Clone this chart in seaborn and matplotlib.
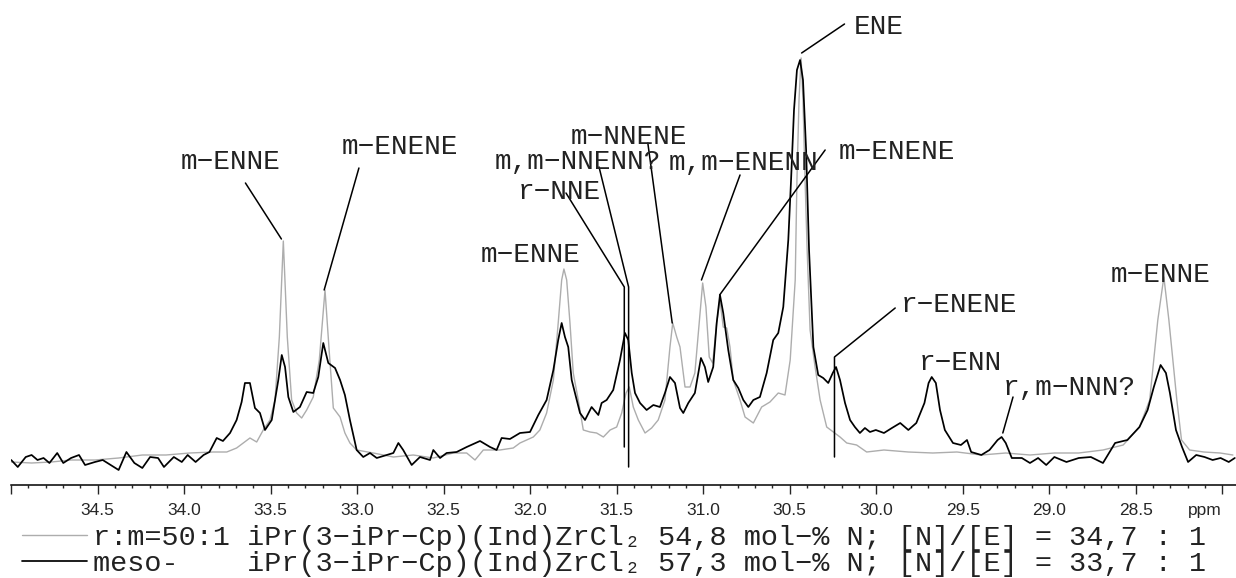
import numpy as np
import pandas as pd
import matplotlib
matplotlib.use("Agg")
import matplotlib.pyplot as plt
import seaborn as sns
from matplotlib.ticker import MultipleLocator

sns.set_style("white")
plt.rcParams["font.family"] = ["Liberation Mono", "DejaVu Sans Mono"]

# ------------------------------------------------------------
# 13C NMR traces (ppm, intensity in a.u.)
# ------------------------------------------------------------
ppm_meso = [35.00, 34.962, 34.916, 34.882, 34.848, 34.813, 34.779, 34.734, 34.699, 34.654,
            34.608, 34.573, 34.516, 34.471, 34.425, 34.379, 34.334, 34.288, 34.242, 34.197,
            34.151, 34.117, 34.060, 34.014, 33.980, 33.934, 33.888, 33.854, 33.812, 33.776,
            33.735, 33.697, 33.668, 33.649, 33.620, 33.591, 33.562, 33.533, 33.494, 33.456,
            33.436, 33.417, 33.398, 33.369, 33.331, 33.292, 33.254, 33.225, 33.196, 33.167,
            33.128, 33.099, 33.071, 33.042, 33.003, 32.965, 32.926, 32.887, 32.829, 32.791,
            32.762, 32.734, 32.685, 32.637, 32.579, 32.560, 32.521, 32.483, 32.425, 32.367,
            32.290, 32.232, 32.194, 32.165, 32.117, 32.059, 32.001, 31.953, 31.905, 31.866,
            31.838, 31.818, 31.799, 31.780, 31.760, 31.741, 31.712, 31.683, 31.645, 31.606,
            31.587, 31.558, 31.520, 31.481, 31.452, 31.433, 31.413, 31.394, 31.365, 31.327,
            31.288, 31.250, 31.221, 31.192, 31.163, 31.134, 31.115, 31.086, 31.048, 31.013,
            30.990, 30.971, 30.942, 30.922, 30.903, 30.884, 30.855, 30.826, 30.797, 30.768,
            30.739, 30.710, 30.672, 30.633, 30.595, 30.566, 30.537, 30.508, 30.492, 30.475,
            30.458, 30.440, 30.423, 30.405, 30.388, 30.363, 30.335, 30.306, 30.277, 30.251,
            30.232, 30.209, 30.180, 30.151, 30.123, 30.094, 30.065, 30.036, 30.002, 29.955,
            29.909, 29.861, 29.814, 29.768, 29.721, 29.697, 29.679, 29.655, 29.631, 29.603,
            29.556, 29.510, 29.475, 29.451, 29.392, 29.345, 29.298, 29.275, 29.251, 29.216,
            29.158, 29.111, 29.064, 29.017, 28.970, 28.900, 28.829, 28.759, 28.689, 28.619,
            28.548, 28.478, 28.431, 28.395, 28.356, 28.325, 28.302, 28.267, 28.232, 28.197,
            28.150, 28.102, 28.055, 28.009, 27.962, 27.927]
int_meso = [10, 3, 13, 15, 10, 12, 7, 17, 7, 12,
            15, 5, 8, 10, 5, 0, 18, 7, 2, 13,
            12, 3, 13, 8, 15, 8, 15, 18, 32, 29,
            37, 50, 68, 87, 87, 62, 57, 40, 50, 90,
            115, 103, 73, 58, 63, 78, 77, 93, 127, 107,
            102, 90, 75, 50, 20, 13, 17, 12, 15, 17,
            27, 20, 5, 13, 10, 20, 12, 17, 18, 23,
            29, 23, 20, 32, 31, 37, 38, 55, 70, 100,
            130, 147, 133, 123, 90, 77, 57, 50, 63, 55,
            67, 70, 80, 110, 137, 130, 97, 77, 67, 60,
            65, 63, 77, 93, 87, 62, 57, 67, 77, 112,
            103, 88, 103, 147, 175, 157, 120, 90, 82, 70,
            63, 70, 73, 97, 130, 137, 163, 230, 290, 360,
            400, 410, 390, 320, 220, 123, 95, 92, 87, 97,
            103, 90, 67, 50, 43, 37, 42, 38, 40, 37,
            42, 47, 40, 47, 67, 87, 93, 87, 60, 40,
            27, 25, 30, 18, 15, 20, 30, 33, 27, 12,
            12, 7, 12, 5, 13, 8, 12, 13, 7, 27,
            30, 43, 60, 83, 105, 97, 77, 40, 23, 8,
            15, 13, 10, 12, 8, 12]

ppm_rm = [35.00, 34.882, 34.768, 34.654, 34.516, 34.379, 34.242, 34.105, 33.968, 33.832,
          33.754, 33.697, 33.620, 33.581, 33.543, 33.504, 33.475, 33.450, 33.427, 33.404,
          33.379, 33.350, 33.321, 33.292, 33.254, 33.219, 33.186, 33.161, 33.138, 33.099,
          33.071, 33.042, 33.003, 32.907, 32.791, 32.676, 32.560, 32.444, 32.367, 32.319,
          32.271, 32.175, 32.098, 32.059, 31.982, 31.944, 31.905, 31.866, 31.838, 31.818,
          31.805, 31.789, 31.770, 31.751, 31.722, 31.693, 31.654, 31.616, 31.577, 31.538,
          31.500, 31.471, 31.446, 31.427, 31.404, 31.375, 31.336, 31.298, 31.260, 31.221,
          31.192, 31.176, 31.153, 31.134, 31.105, 31.076, 31.048, 31.023, 31.003, 30.984,
          30.965, 30.945, 30.922, 30.903, 30.884, 30.864, 30.845, 30.826, 30.787, 30.758,
          30.710, 30.662, 30.614, 30.566, 30.527, 30.497, 30.468, 30.458, 30.446, 30.434,
          30.423, 30.411, 30.399, 30.382, 30.353, 30.324, 30.286, 30.248, 30.209, 30.170,
          30.113, 30.055, 29.955, 29.814, 29.673, 29.533, 29.392, 29.251, 29.111, 28.970,
          28.829, 28.689, 28.572, 28.478, 28.419, 28.372, 28.337, 28.308, 28.262, 28.235,
          28.188, 28.106, 28.012, 27.938]
int_rm = [8, 7, 8, 10, 10, 12, 15, 15, 17, 18,
          18, 22, 32, 28, 40, 50, 70, 133, 229, 133,
          70, 57, 52, 60, 73, 110, 180, 117, 62, 53,
          37, 27, 20, 17, 13, 15, 12, 17, 17, 10,
          20, 20, 22, 27, 33, 40, 57, 90, 147, 190,
          201, 190, 147, 97, 70, 40, 38, 37, 33, 40,
          43, 57, 77, 83, 63, 50, 37, 42, 50, 70,
          123, 147, 133, 123, 83, 83, 97, 147, 187, 163,
          113, 107, 147, 170, 143, 142, 123, 90, 70, 53,
          47, 63, 68, 77, 75, 110, 190, 290, 370, 412,
          370, 290, 220, 140, 103, 70, 43, 38, 33, 27,
          25, 18, 20, 18, 17, 18, 15, 17, 15, 17,
          17, 20, 25, 43, 70, 150, 193, 150, 70, 30,
          20, 18, 17, 15]

# peak assignments
label_text = ["m−ENNE", "m−ENENE", "m−ENNE", "r−NNE", "m,m−NNENN?", "m−NNENE",
              "m,m−ENENN", "m−ENENE", "ENE", "r−ENENE", "r−ENN", "r,m−NNN?", "m−ENNE"]
label_ppm = [33.734, 32.751, 31.995, 31.833, 31.727, 31.432,
             30.765, 29.880, 29.984, 29.521, 29.516, 28.882, 28.354]
label_int = [308, 323, 215, 278, 308, 333, 307, 318, 443, 165, 107, 82, 195]

# leader lines from label to peak
leader_ppm = [[33.646, 33.438], [32.990, 33.191], [31.793, 31.456, 31.456],
              [31.602, 31.431, 31.431], [31.320, 31.179], [30.787, 31.010],
              [30.295, 30.905], [30.183, 30.431], [29.890, 30.241, 30.241],
              [29.209, 29.268]]
leader_int = [[287, 231], [302, 180], [277, 183, 23],
              [303, 183, 3], [327, 147], [295, 190],
              [320, 175], [446, 417], [162, 113, 13],
              [73, 37]]

tick_ppm = [35.0, 34.5, 34.0, 33.5, 33.0, 32.5, 32.0, 31.5, 31.0, 30.5, 30.0, 29.5, 29.0, 28.5, 28.0]
tick_labels = ["", "34.5", "34.0", "33.5", "33.0", "32.5", "32.0", "31.5", "31.0",
               "30.5", "30.0", "29.5", "29.0", "28.5", "ppm"]

legend_labels = ["r:m=50:1 iPr(3−iPr−Cp)(Ind)ZrCl₂ 54,8 mol−% N; [N]/[E] = 34,7 : 1",
                 "meso-    iPr(3−iPr−Cp)(Ind)ZrCl₂ 57,3 mol−% N; [N]/[E] = 33,7 : 1"]

df = pd.concat([
    pd.DataFrame({"ppm": ppm_rm, "intensity": int_rm, "sample": "rm"}),
    pd.DataFrame({"ppm": ppm_meso, "intensity": int_meso, "sample": "meso"}),
])

# ------------------------------------------------------------
# Plot
# ------------------------------------------------------------
fig = plt.figure(figsize=(12.36, 5.78), dpi=100)
ax = fig.add_axes([11.2 / 1236, 93 / 578, 1 - 11.2 / 1236, 485 / 578])

sns.lineplot(data=df, x="ppm", y="intensity", hue="sample", hue_order=["rm", "meso"],
             palette={"rm": "#adadad", "meso": "black"}, estimator=None, sort=False,
             legend=False, ax=ax)
lines = ax.get_lines()
lines[0].set_linewidth(1.0)
lines[1].set_linewidth(1.25)

for xs, ys in zip(leader_ppm, leader_int):
    ax.plot(xs, ys, color="black", lw=1.1)

for t, x, y in zip(label_text, label_ppm, label_int):
    ax.text(x, y, t, ha="center", va="center", fontsize=20, color="#222222")

ax.set_xlim(35.0, 27.92)
ax.set_ylim(-15, 470)
ax.set_xticks(tick_ppm)
ax.set_xticklabels(tick_labels, family="Liberation Sans", fontsize=12.5)
ax.get_xticklabels()[-1].set_horizontalalignment("right")
ax.xaxis.set_minor_locator(MultipleLocator(0.1))
ax.tick_params(axis="x", which="major", direction="out", length=6.5, width=1.0, pad=6.5,
               bottom=True)
ax.tick_params(axis="x", which="minor", direction="out", length=2.5, width=1.0, bottom=True)
ax.set_yticks([])
ax.set_xlabel("")
ax.set_ylabel("")
for s in ["left", "top", "right"]:
    ax.spines[s].set_visible(False)
ax.spines["bottom"].set_linewidth(1.1)
ax.spines["bottom"].set_color("black")

leg = ax.legend(handles=[lines[0], lines[1]], labels=legend_labels, loc="upper left",
                bbox_to_anchor=(22 / 1236, 1 - 525 / 578), bbox_transform=fig.transFigure,
                frameon=False, fontsize=20.5, handlelength=2.3, handletextpad=0.2,
                labelspacing=0.0, borderpad=0, borderaxespad=0)
for t in leg.get_texts():
    t.set_color("#222222")

fig.savefig("out.png", dpi=100)
